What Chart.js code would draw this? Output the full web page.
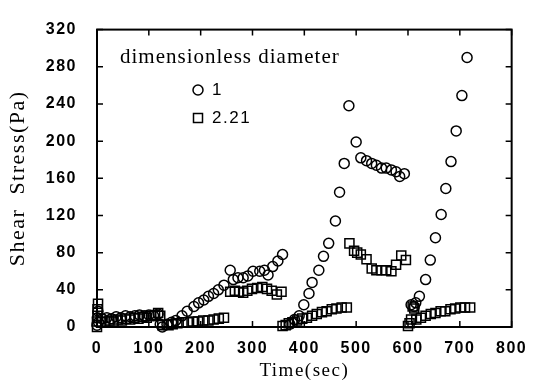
<!DOCTYPE html>
<html>
<head>
<meta charset="utf-8">
<script src="https://cdn.jsdelivr.net/npm/chart.js@4.4.0/dist/chart.umd.min.js"></script>
<style>
  body { margin: 0; background: #fff; }
  #wrap { width: 537px; height: 385px; }
</style>
</head>
<body>
<div id="wrap"><canvas id="stressChart" width="537" height="385"></canvas></div>
<script>
// Shear stress vs time for two dimensionless diameters
const circleTime = [0, 1, 2, 3, 10, 19, 28, 37, 46, 55, 64, 73, 82, 91, 100, 109, 118, 122, 126,
    135, 144, 152, 164, 174, 187, 196, 206, 215, 225, 234, 245, 257, 263, 272, 282, 291, 301, 314, 323, 330, 339, 349, 358,
    372, 381, 390, 399, 409, 415, 428, 437, 447, 460, 468, 477, 486, 500, 509, 520, 530, 539, 549, 558, 568, 577, 584, 593,
    606, 612, 615, 622, 634, 643, 653, 664, 673, 683, 693, 704, 714];
const circleStress = [2, 10, 17, 5, 9, 10, 9, 11, 10, 12, 11, 12, 13, 12, 13, 12, 14, 3, 0,
    3, 5, 7, 12, 17, 22, 26, 29, 33, 36, 40, 45, 61, 51, 53, 53, 55, 60, 60, 61, 56, 65, 71, 78,
    3, 8, 12, 24, 36, 48, 61, 76, 90, 114, 145, 176, 238, 199, 182, 179, 176, 174, 171, 171, 169, 167, 162, 165,
    24, 22, 26, 33, 51, 72, 96, 121, 149, 178, 211, 249, 290];

const squareTime = [0, 0, 1, 1, 2, 8, 16, 24, 32, 40, 48, 56, 64, 72, 80, 88, 96, 104, 112, 118, 122, 126,
    138, 146, 155, 165, 175, 185, 195, 205, 215, 225, 235, 245, 257, 266, 274, 282, 290, 299, 309, 319, 328, 337, 347, 356,
    358, 364, 370, 377, 386, 396, 405, 415, 424, 434, 443, 453, 462, 472, 482, 487, 496, 502, 509, 520, 530, 539, 549, 558, 568, 577, 587, 596,
    600, 603, 606, 609, 612, 616, 625, 634, 644, 653, 663, 672, 682, 691, 701, 710, 720];
const squareStress = [0, 6, 12, 19, 25, 5, 6, 7, 6, 8, 7, 9, 8, 10, 9, 11, 10, 12, 13, 15, 12, 2,
    2, 3, 4, 5, 5, 6, 6, 7, 7, 8, 9, 10, 38, 39, 38, 37, 39, 41, 42, 43, 41, 39, 35, 38,
    1, 2, 4, 5, 7, 9, 10, 12, 14, 16, 17, 19, 20, 21, 21, 90, 82, 80, 78, 73, 63, 61, 61, 61, 60, 67, 77, 72,
    1, 4, 8, 22, 20, 8, 10, 12, 14, 15, 17, 17, 19, 20, 21, 21, 21];

const seriesLabels = ['1', '2.21'];
const legendTitle = 'dimensionless diameter';
const xTickValues = [0, 100, 200, 300, 400, 500, 600, 700, 800];
const yTickValues = [0, 40, 80, 120, 160, 200, 240, 280, 320];

function toPoints(xs, ys) {
    return xs.map((x, i) => ({ x: x, y: ys[i] }));
}

// Box frame, inward ticks on all four sides and the inset legend
const frameAndLegend = {
    id: 'frameAndLegend',
    beforeDraw(chart) {
        chart.ctx.letterSpacing = '1.5px';
    },
    beforeDatasetsDraw(chart) {
        const { ctx, chartArea: a, scales: { x, y } } = chart;
        ctx.save();
        ctx.strokeStyle = '#000';
        ctx.lineWidth = 2;
        ctx.strokeRect(a.left, a.top, a.right - a.left, a.bottom - a.top);
        ctx.lineWidth = 1.5;
        ctx.beginPath();
        x.ticks.forEach(t => {
            const px = x.getPixelForValue(t.value);
            ctx.moveTo(px, a.bottom); ctx.lineTo(px, a.bottom - 6);
            ctx.moveTo(px, a.top); ctx.lineTo(px, a.top + 6);
        });
        y.ticks.forEach(t => {
            const py = y.getPixelForValue(t.value);
            ctx.moveTo(a.left, py); ctx.lineTo(a.left + 6, py);
            ctx.moveTo(a.right, py); ctx.lineTo(a.right - 6, py);
        });
        ctx.stroke();
        ctx.restore();
    },
    afterDraw(chart) {
        const ctx = chart.ctx;
        ctx.save();
        ctx.fillStyle = '#000';
        ctx.strokeStyle = '#000';
        ctx.letterSpacing = '1px';
        ctx.font = '21px "Liberation Serif", "Times New Roman", serif';
        ctx.textBaseline = 'alphabetic';
        ctx.textAlign = 'left';
        ctx.fillText(legendTitle, 120, 63);

        ctx.lineWidth = 1.5;
        ctx.beginPath();
        ctx.arc(198, 90, 5, 0, Math.PI * 2);
        ctx.stroke();
        ctx.strokeRect(193.5, 113.5, 9, 9);

        ctx.letterSpacing = '1.5px';
        ctx.font = '17px "Liberation Sans", Arial, sans-serif';
        ctx.textBaseline = 'middle';
        ctx.fillText(seriesLabels[0], 212, 90);
        ctx.fillText(seriesLabels[1], 212, 118);
        ctx.restore();
    }
};

const ctx = document.getElementById('stressChart').getContext('2d');
const chart = new Chart(ctx, {
    type: 'scatter',
    data: {
        datasets: [
            {
                label: seriesLabels[0],
                data: toPoints(circleTime, circleStress),
                pointStyle: 'circle',
                pointRadius: 5,
                borderWidth: 1.5,
                borderColor: '#000',
                backgroundColor: 'rgba(0,0,0,0)',
                clip: false
            },
            {
                label: seriesLabels[1],
                data: toPoints(squareTime, squareStress),
                pointStyle: 'rect',
                pointRadius: 6.4,
                borderWidth: 1.5,
                borderColor: '#000',
                backgroundColor: 'rgba(0,0,0,0)',
                clip: false
            }
        ]
    },
    options: {
        responsive: false,
        animation: false,
        layout: {
            padding: { top: 13, right: 19, bottom: 0, left: 0 }
        },
        scales: {
            x: {
                type: 'linear',
                min: 0,
                max: 800,
                afterBuildTicks: scale => { scale.ticks = xTickValues.map(v => ({ value: v })); },
                afterFit: scale => { scale.height = 58; },
                grid: { display: false, drawTicks: false },
                border: { display: false },
                ticks: {
                    color: '#000',
                    padding: 12,
                    maxRotation: 0,
                    font: { family: '"Liberation Sans", Arial, sans-serif', size: 16, weight: 'bold' }
                },
                title: {
                    display: true,
                    text: 'Time(sec)',
                    color: '#000',
                    padding: { top: 0, bottom: 3 },
                    font: { family: '"Liberation Serif", "Times New Roman", serif', size: 19 }
                }
            },
            y: {
                type: 'linear',
                min: 0,
                max: 320,
                afterBuildTicks: scale => { scale.ticks = yTickValues.map(v => ({ value: v })); },
                afterFit: scale => { scale.width = 97; },
                grid: { display: false, drawTicks: false },
                border: { display: false },
                ticks: {
                    color: '#000',
                    padding: 20,
                    font: { family: '"Liberation Sans", Arial, sans-serif', size: 16, weight: 'bold' }
                },
                title: {
                    display: true,
                    text: 'Shear  Stress(Pa)',
                    color: '#000',
                    padding: { top: 5, bottom: 0 },
                    font: { family: '"Liberation Serif", "Times New Roman", serif', size: 22 }
                }
            }
        },
        plugins: {
            legend: { display: false },
            tooltip: { enabled: false }
        }
    },
    plugins: [frameAndLegend]
});
</script>
</body>
</html>
